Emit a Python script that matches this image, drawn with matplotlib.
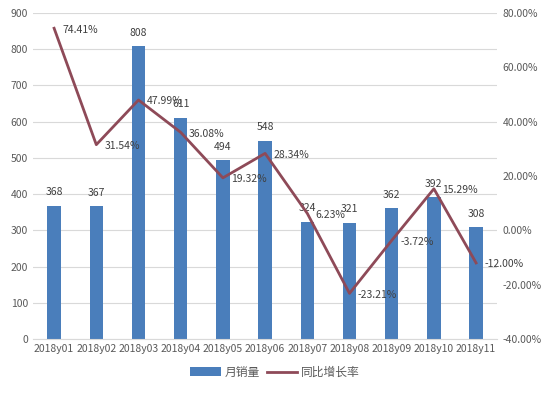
import matplotlib
matplotlib.use("Agg")
import matplotlib.pyplot as plt
from matplotlib.ticker import FuncFormatter

plt.rcParams["font.family"] = ["Noto Sans CJK SC", "DejaVu Sans"]

months = ["2018y01", "2018y02", "2018y03", "2018y04", "2018y05", "2018y06",
          "2018y07", "2018y08", "2018y09", "2018y10", "2018y11"]
sales = [368, 367, 808, 611, 494, 548, 324, 321, 362, 392, 308]
growth = [74.41, 31.54, 47.99, 36.08, 19.32, 28.34, 6.23, -23.21, -3.72, 15.29, -12.00]

BAR = "#4A7EBB"
LINE = "#8E4A58"
TXT = "#595959"
FS = 7.5

fig = plt.figure(figsize=(5.5, 3.96), dpi=100)
ax = fig.add_axes([0.06, 0.144, 0.844, 0.823])
x = list(range(len(months)))

ax.bar(x, sales, width=0.32, color=BAR, label="月销量", zorder=2)
ax.set_ylim(0, 900)
ax.set_yticks(range(0, 901, 100))
ax.set_xlim(-0.5, len(months) - 0.5)
ax.set_xticks(x)
ax.set_xticklabels(months)
ax.grid(axis="y", color="#D9D9D9", linewidth=0.8, zorder=0)
for s in ["top", "right", "left"]:
    ax.spines[s].set_visible(False)
ax.spines["bottom"].set_color("#D9D9D9")
ax.tick_params(length=0, labelsize=FS, colors=TXT)
for xi, v in zip(x, sales):
    ax.annotate(str(v), (xi, v), xytext=(0, 6), textcoords="offset points",
                ha="center", va="bottom", fontsize=FS, color="#404040")

ax2 = ax.twinx()
ax2.plot(x, growth, color=LINE, linewidth=2, label="同比增长率", zorder=3)
ax2.set_ylim(-40, 80)
ax2.set_yticks(range(-40, 81, 20))
ax2.yaxis.set_major_formatter(FuncFormatter(lambda v, p: f"{v:.2f}%"))
for s in ["top", "right", "left", "bottom"]:
    ax2.spines[s].set_visible(False)
ax2.tick_params(length=0, labelsize=FS, colors=TXT, pad=4)
for xi, v in zip(x, growth):
    ax2.annotate(f"{v:.2f}%", (xi, v), xytext=(6, -1), textcoords="offset points",
                 ha="left", va="center", fontsize=FS, color="#404040")

h1, l1 = ax.get_legend_handles_labels()
h2, l2 = ax2.get_legend_handles_labels()
fig.legend(h1 + h2, l1 + l2, loc="center", bbox_to_anchor=(0.5, 0.06), ncol=2,
           frameon=False, fontsize=8.5, handlelength=2.6, labelcolor=TXT,
           columnspacing=0.6, handletextpad=0.3)

fig.savefig("out.png", dpi=100)
